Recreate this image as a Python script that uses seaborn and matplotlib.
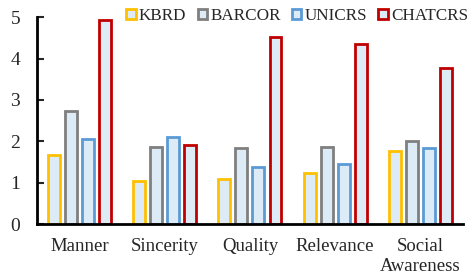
import pandas as pd
import matplotlib.pyplot as plt
import seaborn as sns
from matplotlib.patches import Patch

# =========================
# Data
# =========================
aspects = ["Manner", "Sincerity", "Quality", "Relevance", "Social\nAwareness"]
models = ["KBRD", "BARCOR", "UNICRS", "CHATCRS"]
kbrd = [1.67, 1.04, 1.09, 1.23, 1.76]
barcor = [2.73, 1.86, 1.84, 1.86, 2.00]
unicrs = [2.05, 2.10, 1.38, 1.45, 1.83]
chatcrs = [4.93, 1.90, 4.52, 4.35, 3.77]

edge_colors = ["#FFC000", "#7F7F7F", "#5B9BD5", "#C00000"]
fill_color = "#DDEBF7"

df = pd.DataFrame({
    "aspect": aspects * 4,
    "model": [m for m in models for _ in aspects],
    "score": kbrd + barcor + unicrs + chatcrs,
})

# =========================
# Plot
# =========================
sns.set_style("white")
plt.rcParams["font.family"] = ["Liberation Serif", "DejaVu Serif"]

fig = plt.figure(figsize=(4.72, 2.76), dpi=100)
ax = fig.add_axes([0.078, 0.188, 0.903, 0.75])

sns.barplot(data=df, x="aspect", y="score", hue="model", palette=edge_colors,
            fill=False, width=0.8, gap=0.3, linewidth=2, ax=ax, legend=False)
for p in ax.patches:
    p.set_facecolor(fill_color)

ax.set_ylim(0, 5)
ax.set_xlim(-0.5, 4.5)
ax.set_yticks(range(6))
ax.set_xlabel("")
ax.set_ylabel("")
ax.tick_params(axis="y", direction="in", length=5, width=1.5, labelsize=14, pad=12,
               left=True)
ax.tick_params(axis="x", length=0, labelsize=13.5, pad=10)
for side in ["top", "right"]:
    ax.spines[side].set_visible(False)
for side in ["left", "bottom"]:
    ax.spines[side].set_linewidth(2)
    ax.spines[side].set_color("black")

handles = [Patch(facecolor=fill_color, edgecolor=c, linewidth=2, label=m)
           for m, c in zip(models, edge_colors)]
fig.legend(handles=handles, loc="upper left", bbox_to_anchor=(0.253, 0.995), ncol=4,
           frameon=False, fontsize=12.3, handlelength=0.55, handleheight=0.55,
           handletextpad=0.2, columnspacing=0.65, borderaxespad=0)

plt.savefig("out.png", dpi=100)
